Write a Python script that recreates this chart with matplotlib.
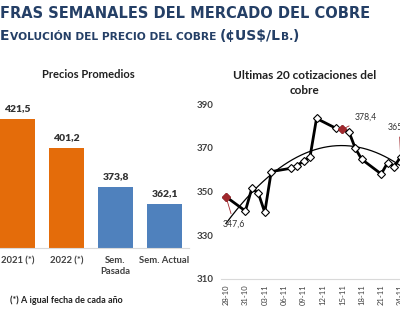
import numpy as np
import pandas as pd
import matplotlib
matplotlib.use("Agg")
import matplotlib.pyplot as plt
import matplotlib.dates as mdates
from matplotlib.offsetbox import TextArea, HPacker, AnchoredOffsetbox

# datos - precios promedio
categorias = ["2021 (*)", "2022 (*)", "Sem.\nPasada", "Sem. Actual"]
promedios = [421.5, 401.2, 373.8, 362.1]
colores_barras = ["#E46C0A", "#E46C0A", "#4F81BD", "#4F81BD"]

# datos - ultimas 20 cotizaciones
fechas = ["2022-10-28", "2022-10-31", "2022-11-01", "2022-11-02", "2022-11-03",
          "2022-11-04", "2022-11-07", "2022-11-08", "2022-11-09", "2022-11-10",
          "2022-11-11", "2022-11-14", "2022-11-15", "2022-11-16", "2022-11-17",
          "2022-11-18", "2022-11-21", "2022-11-22", "2022-11-23", "2022-11-24"]
cotizaciones = [347.6, 341.1, 351.5, 349.2, 340.5, 359.1, 360.6, 361.8, 364.0, 365.9,
                383.4, 378.9, 378.4, 377.4, 369.7, 364.7, 358.0, 363.2, 361.4, 365.8]

AZUL_TIT = "#243F66"
GRIS = "#404040"
W, H = 400, 324
PX_DIA = 6.5

fig = plt.figure(figsize=(4, 3.24), dpi=100)


def px_axes(x0, x1, ytop, ybot):
    # posiciones en pixeles (origen arriba-izquierda) -> fraccion de figura
    return fig.add_axes([x0 / W, (H - ybot) / H, (x1 - x0) / W, (ybot - ytop) / H])


# ---- titulos ----
fig.text(0.0 / W, 1 - 14 / H, "FRAS SEMANALES DEL MERCADO DEL COBRE", fontsize=10.5,
         fontweight="bold", color=AZUL_TIT, va="center", ha="left", family="DejaVu Sans")

partes = [("E", 10), ("VOLUCIÓN DEL PRECIO DEL COBRE ", 7.7), ("(¢US$/L", 10), ("B.", 7.7), (")", 10)]
cajas = [TextArea(t, textprops=dict(fontsize=s, fontweight="bold", color=AZUL_TIT,
                                    family="DejaVu Sans")) for t, s in partes]
pack = HPacker(children=cajas, align="baseline", pad=0, sep=0)
fig.add_artist(AnchoredOffsetbox(loc="upper left", child=pack, pad=0, frameon=False,
                                 bbox_to_anchor=(0.0, 1 - 29 / H),
                                 bbox_transform=fig.transFigure, borderpad=0))

# ---- grafico de barras ----
ax1 = px_axes(-7, 189, 100, 248)
x = np.arange(len(categorias))
barras = ax1.bar(x, promedios, width=0.71, color=colores_barras)
ax1.set_xlim(-0.5, 3.5)
ax1.set_ylim(331, 331 + 148 * 0.7)
for b, v in zip(barras, promedios):
    ax1.annotate(f"{v:.1f}".replace(".", ","), (b.get_x() + b.get_width() / 2, v),
                 xytext=(0, 4), textcoords="offset points", ha="center", va="bottom",
                 fontsize=7.5, fontweight="heavy", color="#333333", family="Lato")
ax1.set_xticks(x)
ax1.set_xticklabels(categorias, fontsize=6.8, fontweight="bold", color=GRIS, family="Lato",
                    linespacing=1.3)
ax1.tick_params(axis="x", length=0, pad=6)
ax1.set_yticks([])
for s in ["left", "right", "top"]:
    ax1.spines[s].set_visible(False)
ax1.spines["bottom"].set_color("#D9D9D9")
ax1.set_facecolor("none")
fig.text(88 / W, 1 - 75 / H, "Precios Promedios", fontsize=8, fontweight="bold",
         ha="center", va="center", color="#202020", family="Lato")
fig.text(10 / W, 1 - 300 / H, "(*) A igual fecha de cada año", fontsize=6.5,
         fontweight="bold", ha="left", va="center", color="#202020", family="Lato")

# ---- grafico de lineas ----
fx = pd.to_datetime(fechas)
d0 = mdates.date2num(fx[0])
dn = mdates.date2num(fx)
ax2 = px_axes(221, 420, 104, 279)
ax2.set_xlim(d0 - 5 / PX_DIA, d0 - 5 / PX_DIA + 199 / PX_DIA)
ax2.set_ylim(310, 390)

# linea de tendencia polinomica (orden 2)
coef = np.polyfit(dn - d0, cotizaciones, 2)
xt = np.linspace(dn[0], dn[-1], 200)
ax2.plot(xt, np.polyval(coef, xt - d0), color="black", lw=0.9, zorder=2)

ax2.plot(dn, cotizaciones, color="black", lw=2, marker="D", markersize=4.4,
         markerfacecolor="white", markeredgecolor="black", markeredgewidth=0.8, zorder=3)

rojo = "#A0282D"
for i, off, ha in [(0, (5.8, -19.4), "center"), (12, (8.6, 8.6), "left"), (19, (-9, 21.6), "left")]:
    if i != 19:
        ax2.plot(dn[i], cotizaciones[i], marker="D", markersize=3.6, color=rojo, zorder=4)
    ax2.annotate(f"{cotizaciones[i]:.1f}".replace(".", ","), (dn[i], cotizaciones[i]),
                 xytext=off, textcoords="offset points", ha=ha, va="center",
                 fontsize=6.3, color="#333333", family="Lato",
                 arrowprops=dict(arrowstyle="-", color=rojo, lw=0.6, shrinkA=2, shrinkB=1))

ticks = [d0 + 3 * k for k in range(11)]
ax2.set_xticks(ticks)
ax2.xaxis.set_major_formatter(mdates.DateFormatter("%d-%m"))
ax2.tick_params(axis="x", labelrotation=90, labelsize=5.5, length=0, pad=4, labelcolor=GRIS)
for lab in ax2.get_xticklabels():
    lab.set_family("Lato")
ax2.set_yticks([310, 330, 350, 370, 390])
ax2.tick_params(axis="y", length=0, labelsize=7, pad=5, labelcolor=GRIS)
for lab in ax2.get_yticklabels():
    lab.set_family("Lato")
    lab.set_fontweight("bold")
for s in ["left", "right", "top"]:
    ax2.spines[s].set_visible(False)
ax2.spines["bottom"].set_color("#D9D9D9")
ax2.set_facecolor("none")
fig.text(305 / W, 1 - 83 / H, "Ultimas 20 cotizaciones del\ncobre", fontsize=8.5,
         fontweight="bold", ha="center", va="center", color="#202020", family="Lato",
         linespacing=1.5)

fig.savefig("out.png", dpi=100)
